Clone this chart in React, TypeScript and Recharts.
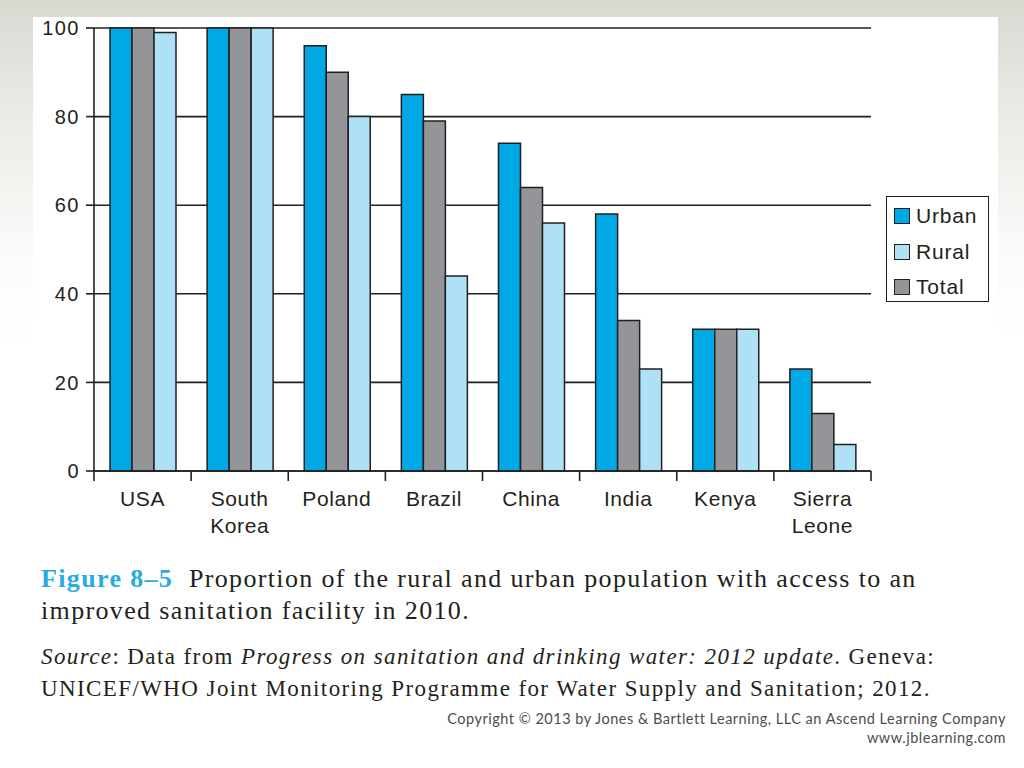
import React from "react";
import { BarChart, Bar, XAxis, YAxis, CartesianGrid } from "recharts";

const categories = ["USA", "South Korea", "Poland", "Brazil", "China", "India", "Kenya", "Sierra Leone"];
const urban = [100, 100, 96, 85, 74, 58, 32, 23];
const total = [100, 100, 90, 79, 64, 34, 32, 13];
const rural = [99, 100, 80, 44, 56, 23, 32, 6];
const yTicks = [0, 20, 40, 60, 80, 100];
const tickLines: Record<string, string[]> = {
  "South Korea": ["South", "Korea"],
  "Sierra Leone": ["Sierra", "Leone"],
};

const COLORS = { urban: "#00a9e6", total: "#939598", rural: "#aee0f6" };
const INK = "#231f20";

const data = categories.map((c, i) => ({ name: c, urban: urban[i], total: total[i], rural: rural[i] }));

const XTick = (props: any) => {
  const { x, y, payload, index, visibleTicksCount } = props;
  const lines = tickLines[payload.value] || [payload.value];
  const half = payload.offset || 0;
  const last = index === (visibleTicksCount ?? categories.length) - 1;
  return (
    <g>
      <line x1={x - half} x2={x - half} y1={y} y2={y + 10} stroke={INK} strokeWidth={1.6} />
      {last && <line x1={x + half} x2={x + half} y1={y} y2={y + 10} stroke={INK} strokeWidth={1.6} />}
      <text x={x} y={y + 35} textAnchor="middle" fill="#231f20" fontSize={21} letterSpacing={0.6} fontFamily="Liberation Sans, Arial, sans-serif">
        {lines.map((l: string, i: number) => (
          <tspan key={i} x={x} dy={i === 0 ? 0 : 27}>{l}</tspan>
        ))}
      </text>
    </g>
  );
};

const legendItems = [
  { label: "Urban", color: COLORS.urban },
  { label: "Rural", color: COLORS.rural },
  { label: "Total", color: COLORS.total },
];

const SERIF = "Liberation Serif, Times New Roman, serif";

export default function App() {
  return (
    <div style={{ position: "absolute", left: 0, top: 0, width: 1024, height: 768, overflow: "hidden", background: "linear-gradient(to bottom, #d9d8d1 0px, #ecebe7 120px, #fbfbfa 260px, #ffffff 340px)" }}>
      <div style={{ position: "absolute", left: 33, top: 17, width: 965, height: 560, background: "#ffffff" }} />
      <div style={{ position: "absolute", left: 0, top: 0 }}>
        <BarChart width={1000} height={545} data={data} margin={{ top: 28, right: 129, left: 0, bottom: 0 }} barCategoryGap={16} barGap={0}>
          <CartesianGrid yAxisId="left" vertical={false} stroke={INK} strokeWidth={1.6} strokeOpacity={1} />
          <XAxis dataKey="name" height={74} tickSize={0} tickMargin={0} tickLine={false} axisLine={{ stroke: INK, strokeWidth: 1.6 }} tick={<XTick />} interval={0} />
          <YAxis yAxisId="left" width={94} domain={[0, 100]} ticks={yTicks} tickSize={8} tickMargin={6} axisLine={{ stroke: INK, strokeWidth: 1.6 }} tickLine={{ stroke: INK, strokeWidth: 1.6 }} tick={{ fill: "#231f20", fontSize: 20, letterSpacing: 1.5, fontFamily: "Liberation Sans, Arial, sans-serif" }} />
          <YAxis yAxisId="right" orientation="right" width={0} domain={[0, 100]} tick={false} tickLine={false} axisLine={{ stroke: INK, strokeWidth: 1.6 }} />
          <Bar yAxisId="left" dataKey="urban" fill={COLORS.urban} stroke={INK} strokeWidth={1.5} isAnimationActive={false} />
          <Bar yAxisId="left" dataKey="total" fill={COLORS.total} stroke={INK} strokeWidth={1.5} isAnimationActive={false} />
          <Bar yAxisId="left" dataKey="rural" fill={COLORS.rural} stroke={INK} strokeWidth={1.5} isAnimationActive={false} />
        </BarChart>
      </div>
      <div style={{ position: "absolute", left: 886, top: 196, width: 101, height: 104, border: `1.6px solid ${INK}`, background: "#fff", fontFamily: "Liberation Sans, Arial, sans-serif" }}>
        {legendItems.map((it, i) => (
          <div key={it.label} style={{ position: "absolute", left: 7, top: 7 + i * 35.5, height: 24, display: "flex", alignItems: "center" }}>
            <div style={{ width: 14, height: 14, background: it.color, border: `1.5px solid ${INK}`, marginRight: 6 }} />
            <span style={{ fontSize: 21, letterSpacing: 0.8, color: "#231f20" }}>{it.label}</span>
          </div>
        ))}
      </div>
      <svg width={1024} height={768} style={{ position: "absolute", left: 0, top: 0, pointerEvents: "none" }}>
        <text x={41} y={587} fontFamily={SERIF} fontSize={26} letterSpacing={1.35} fill="#231f20">
          <tspan fontWeight="bold" fill="#29abe2">Figure 8–5</tspan>
          <tspan>{"\u00a0\u00a0Proportion of the rural and urban population with access to an"}</tspan>
        </text>
        <text x={41} y={619} fontFamily={SERIF} fontSize={26} letterSpacing={1.35} fill="#231f20">improved sanitation facility in 2010.</text>
        <text x={41} y={664} fontFamily={SERIF} fontSize={23} letterSpacing={1.4} fill="#231f20">
          <tspan fontStyle="italic">Source</tspan>
          <tspan>: Data from </tspan>
          <tspan fontStyle="italic">Progress on sanitation and drinking water: 2012 update</tspan>
          <tspan>. Geneva:</tspan>
        </text>
        <text x={41} y={696} fontFamily={SERIF} fontSize={23} letterSpacing={1.4} fill="#231f20">UNICEF/WHO Joint Monitoring Programme for Water Supply and Sanitation; 2012.</text>
        <text x={1006} y={724} textAnchor="end" fontFamily="Lato, sans-serif" fontSize={14.5} letterSpacing={0.5} fill="#4d4d4f">Copyright © 2013 by Jones &amp; Bartlett Learning, LLC an Ascend Learning Company</text>
        <text x={1006} y={743} textAnchor="end" fontFamily="Lato, sans-serif" fontSize={14.5} letterSpacing={0.5} fill="#4d4d4f">www.jblearning.com</text>
      </svg>
    </div>
  );
}
